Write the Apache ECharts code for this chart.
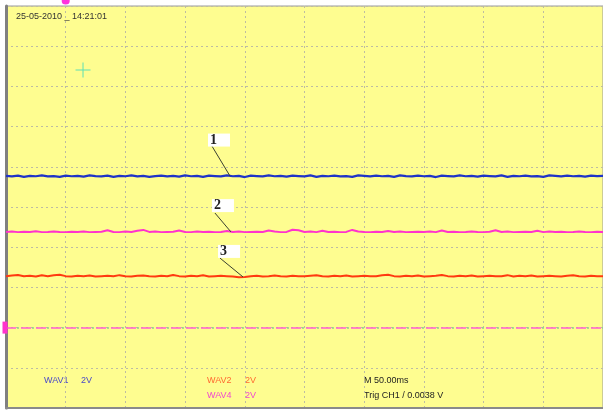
<!DOCTYPE html>
<html>
<head>
<meta charset="utf-8">
<script src="https://cdn.jsdelivr.net/npm/echarts@6/dist/echarts.min.js"></script>
<style>html,body{margin:0;padding:0;background:#fff}#c{width:603px;height:410px}</style>
</head>
<body>
<div id="c"></div>
<script>
// Time axis: 50 ms/div, 10 divisions. Volts: 2 V/div.
const timeSpanMs = 500;
const timeTicks = [0,50,100,150,200,250,300,350,400,450,500];
const voltTicks = [-10,-8,-6,-4,-2,0,2,4,6,8,10];

// WAV1 (blue) samples, volts
const wav1 = [1.55,1.52,1.56,1.50,1.55,1.53,1.57,1.52,1.54,1.50,1.56,1.53,1.55,1.51,1.57,1.54,1.52,1.56,1.50,1.55,
1.53,1.57,1.52,1.55,1.50,1.54,1.56,1.52,1.55,1.51,1.57,1.53,1.55,1.50,1.56,1.54,1.52,1.57,1.53,1.55,
1.49,1.56,1.54,1.52,1.57,1.53,1.55,1.51,1.56,1.54,1.52,1.57,1.50,1.55,1.53,1.56,1.52,1.54,1.50,1.57,
1.55,1.52,1.56,1.53,1.55,1.50,1.57,1.54,1.52,1.56,1.53,1.55,1.49,1.56,1.54,1.52,1.57,1.53,1.55,1.51,
1.56,1.54,1.52,1.57,1.50,1.55,1.53,1.56,1.52,1.54,1.50,1.57,1.55,1.52,1.56,1.53,1.55,1.51,1.56,1.54,1.55];
// WAV4 (magenta) samples, volts
const wav4 = [-1.24,-1.22,-1.25,-1.23,-1.24,-1.21,-1.25,-1.24,-1.22,-1.24,-1.25,-1.23,-1.24,-1.22,-1.25,-1.24,-1.23,-1.16,-1.24,-1.25,
-1.22,-1.24,-1.18,-1.14,-1.24,-1.22,-1.25,-1.24,-1.23,-1.17,-1.24,-1.25,-1.22,-1.24,-1.23,-1.25,-1.24,-1.19,-1.24,-1.22,
-1.25,-1.24,-1.23,-1.24,-1.17,-1.22,-1.25,-1.24,-1.13,-1.16,-1.24,-1.22,-1.25,-1.18,-1.24,-1.23,-1.25,-1.24,-1.14,-1.22,
-1.24,-1.25,-1.23,-1.24,-1.19,-1.24,-1.22,-1.25,-1.24,-1.23,-1.24,-1.22,-1.25,-1.17,-1.24,-1.23,-1.25,-1.24,-1.22,-1.24,
-1.25,-1.23,-1.16,-1.24,-1.22,-1.25,-1.24,-1.23,-1.24,-1.18,-1.25,-1.22,-1.24,-1.23,-1.25,-1.24,-1.22,-1.24,-1.25,-1.23,-1.24];
// WAV2 (red) samples, volts
const wav2 = [-3.44,-3.41,-3.38,-3.45,-3.42,-3.46,-3.40,-3.44,-3.39,-3.37,-3.44,-3.46,-3.42,-3.44,-3.41,-3.46,-3.44,-3.42,-3.45,-3.39,
-3.44,-3.46,-3.42,-3.41,-3.44,-3.46,-3.42,-3.45,-3.38,-3.44,-3.46,-3.42,-3.44,-3.40,-3.46,-3.44,-3.42,-3.44,-3.46,-3.49,
-3.48,-3.44,-3.42,-3.46,-3.44,-3.41,-3.44,-3.46,-3.42,-3.44,-3.45,-3.42,-3.39,-3.44,-3.46,-3.42,-3.44,-3.41,-3.46,-3.44,
-3.42,-3.45,-3.44,-3.39,-3.37,-3.44,-3.46,-3.42,-3.44,-3.41,-3.46,-3.44,-3.42,-3.38,-3.44,-3.46,-3.42,-3.44,-3.41,-3.46,
-3.44,-3.42,-3.45,-3.44,-3.39,-3.46,-3.42,-3.44,-3.41,-3.46,-3.44,-3.42,-3.44,-3.46,-3.42,-3.40,-3.44,-3.46,-3.42,-3.44,-3.45];
// WAV4 reference level (volts)
const wav4Ref = -6;
// Numbered callouts: label, box anchor [ms, V], leader start [ms, V], leader end on trace [ms, V]
const calloutNames = ['1','2','3'];
const calloutBox = [[178.4,3.33],[181.7,0.07],[186.8,-2.21]];
const calloutFrom = [[172.5,3.03],[175.0,-0.30],[179.2,-2.54]];
const calloutTo = [[187.6,1.54],[188.4,-1.24],[198.5,-3.48]];
// Cursor cross position [ms, V]
const cursorPos = [64.5, 6.82];
const triggerTime = 50;

function toPairs(arr){
  const step = timeSpanMs/(arr.length-1);
  return arr.map((v,i)=>[i*step, v]);
}
function callout(i){
  return {
    markPoint:{
      silent:true, animation:false,
      data:[{coord:calloutBox[i], symbol:'rect', symbolSize:[22,13],
        itemStyle:{color:'#ffffff'},
        label:{show:true, formatter:calloutNames[i], position:'insideLeft', distance:2,
          color:'#222', fontFamily:'"Liberation Serif", "DejaVu Serif", serif', fontWeight:'bold', fontSize:14}}]
    },
    markLine:{
      silent:true, animation:false, symbol:'none',
      lineStyle:{color:'#3a4030', width:1, type:'solid'}, label:{show:false},
      data:[[{coord:calloutFrom[i]},{coord:calloutTo[i]}]]
    }
  };
}

const chart = echarts.init(document.getElementById('c'), null, {renderer:'canvas'});
const axisCommon = {
  axisLabel:{show:false}, axisTick:{show:false},
  splitLine:{show:true, lineStyle:{color:'#bdbca2', type:[2,3], width:1}}
};
const c1 = callout(0), c2 = callout(1), c3 = callout(2);
chart.setOption({
  animation:false,
  backgroundColor:'#ffffff',
  grid:{left:6, top:6, right:-1, bottom:2, show:true, backgroundColor:'#fefd90', borderColor:'#9a9a9a', borderWidth:1},
  xAxis:Object.assign({type:'value', min:timeTicks[0], max:timeTicks[timeTicks.length-1], interval:timeTicks[1]-timeTicks[0],
    axisLine:{show:true, onZero:false, lineStyle:{color:'#8a8a8a', width:2}}}, axisCommon),
  yAxis:Object.assign({type:'value', min:voltTicks[0], max:voltTicks[voltTicks.length-1], interval:voltTicks[1]-voltTicks[0],
    axisLine:{show:true, onZero:false, lineStyle:{color:'#808080', width:3}}}, axisCommon),
  series:[
    Object.assign({name:'WAV1', type:'line', data:toPairs(wav1), showSymbol:false, symbol:'none',
      lineStyle:{color:'#1f33c8', width:2.2}}, c1),
    Object.assign({name:'WAV4', type:'line', data:toPairs(wav4), showSymbol:false, symbol:'none',
      lineStyle:{color:'#ff33cc', width:2}}, c2),
    Object.assign({name:'WAV2', type:'line', data:toPairs(wav2), showSymbol:false, symbol:'none',
      lineStyle:{color:'#ff3a10', width:2}}, c3),
    {name:'ref', type:'line', data:[], 
      markLine:{silent:true, symbol:'none', label:{show:false},
        data:[
          {yAxis:wav4Ref, lineStyle:{color:'#ff5fcf', type:[10,5], width:1.5}},
          {yAxis:wav4Ref, lineStyle:{color:'#8fcf8f', type:[2,13], dashOffset:-11, width:1.5}}
        ]},
      markPoint:{silent:true, data:[
        {coord:[timeTicks[0], wav4Ref], symbol:'rect', symbolSize:[5,12], symbolOffset:[-1,0], itemStyle:{color:'#ff33cc'}, label:{show:false}},
        {coord:[triggerTime, voltTicks[voltTicks.length-1]], symbol:'circle', symbolSize:[8,7], symbolOffset:[0,-5], itemStyle:{color:'#ff33dd'}, label:{show:false}},
        {coord:cursorPos, symbol:'path://M7,0H8V7H15V8H8V15H7V8H0V7H7Z', symbolSize:15, itemStyle:{color:'#5fe0b4'}, label:{show:false}}
      ]}
    }
  ],
  graphic:[
    {type:'text', left:16, top:12, style:{text:'25-05-2010 _ 14:21:01', fill:'#333', font:'9px "Liberation Sans", Arial, sans-serif'}},
    {type:'text', left:44, top:376, style:{text:'WAV1', fill:'#4a4ac8', font:'9px "Liberation Sans", Arial, sans-serif'}},
    {type:'text', left:81, top:376, style:{text:'2V', fill:'#4a4ac8', font:'9px "Liberation Sans", Arial, sans-serif'}},
    {type:'text', left:207, top:376, style:{text:'WAV2', fill:'#ff6a30', font:'9px "Liberation Sans", Arial, sans-serif'}},
    {type:'text', left:245, top:376, style:{text:'2V', fill:'#ff6a30', font:'9px "Liberation Sans", Arial, sans-serif'}},
    {type:'text', left:207, top:391, style:{text:'WAV4', fill:'#f048d0', font:'9px "Liberation Sans", Arial, sans-serif'}},
    {type:'text', left:245, top:391, style:{text:'2V', fill:'#f048d0', font:'9px "Liberation Sans", Arial, sans-serif'}},
    {type:'text', left:364, top:376, style:{text:'M 50.00ms', fill:'#222', font:'9px "Liberation Sans", Arial, sans-serif'}},
    {type:'text', left:364, top:391, style:{text:'Trig CH1 / 0.0038 V', fill:'#222', font:'9px "Liberation Sans", Arial, sans-serif'}}
  ]
});
</script>
</body>
</html>
